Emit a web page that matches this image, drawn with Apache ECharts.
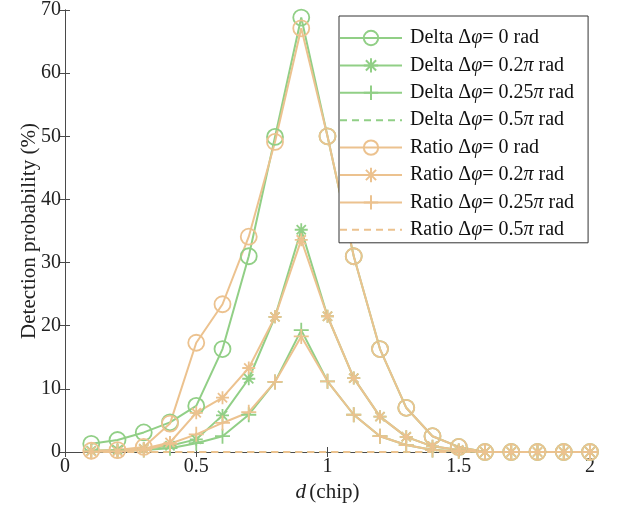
<!DOCTYPE html>
<html>
<head>
<meta charset="utf-8">
<script src="https://cdn.jsdelivr.net/npm/echarts@6/dist/echarts.min.js"></script>
<style>
  html, body { margin: 0; padding: 0; background: #fff; }
  #chart { width: 617px; height: 508px; }
</style>
</head>
<body>
<div id="chart"></div>
<script>
// Chip offset d (chip)
const dValues = [0.1, 0.2, 0.3, 0.4, 0.5, 0.6, 0.7, 0.8, 0.9, 1.0,
                 1.1, 1.2, 1.3, 1.4, 1.5, 1.6, 1.7, 1.8, 1.9, 2.0];

// Detection probability (%) for each discriminator and phase offset
const deltaPhi0   = [1.3, 1.9, 3.1, 4.7, 7.3, 16.3, 31.0, 49.9, 68.8, 50.0, 31.0, 16.3, 7.0, 2.5, 0.8, 0, 0, 0, 0, 0];
const deltaPhi02  = [0.2, 0.3, 0.5, 1.0, 2.0, 5.8, 11.6, 21.4, 35.2, 21.5, 11.7, 5.6, 2.4, 0.9, 0.3, 0, 0, 0, 0, 0];
const deltaPhi025 = [0.1, 0.15, 0.3, 0.6, 1.4, 2.5, 5.9, 11.1, 19.3, 11.2, 5.9, 2.5, 1.1, 0.3, 0.1, 0, 0, 0, 0, 0];
const deltaPhi05  = [0, 0, 0, 0, 0, 0, 0, 0, 0, 0, 0, 0, 0, 0, 0, 0, 0, 0, 0, 0];
const ratioPhi0   = [0.2, 0.3, 0.8, 4.5, 17.3, 23.4, 34.1, 49.1, 67.1, 50.0, 31.0, 16.3, 7.0, 2.5, 0.8, 0, 0, 0, 0, 0];
const ratioPhi02  = [0.1, 0.1, 0.5, 1.5, 6.2, 8.6, 13.3, 21.4, 33.6, 21.5, 11.7, 5.6, 2.4, 0.9, 0.3, 0, 0, 0, 0, 0];
const ratioPhi025 = [0.05, 0.1, 0.3, 1.3, 2.8, 4.6, 6.3, 11.1, 18.3, 11.2, 5.9, 2.5, 1.1, 0.3, 0.1, 0, 0, 0, 0, 0];
const ratioPhi05  = [0, 0, 0, 0, 0, 0, 0, 0, 0, 0, 0, 0, 0, 0, 0, 0, 0, 0, 0, 0];

const seriesNames = [
  'Delta Δφ= 0 rad', 'Delta Δφ= 0.2π rad', 'Delta Δφ= 0.25π rad', 'Delta Δφ= 0.5π rad',
  'Ratio Δφ= 0 rad', 'Ratio Δφ= 0.2π rad', 'Ratio Δφ= 0.25π rad', 'Ratio Δφ= 0.5π rad'
];

// Axis ticks
const xTicks = [0, 0.5, 1, 1.5, 2];
const yTicks = [0, 10, 20, 30, 40, 50, 60, 70];

const GREEN = '#91cf86';
const TAN = '#ecc28f';
const AXIS = '#4a4a4a';
const FONT = '"Liberation Serif", "Times New Roman", serif';

// Marker outlines (stroked, unfilled)
const MARK_CIRCLE = 'circle';
const MARK_STAR = 'path://M0,-10L0,10M-10,0L10,0M-7.07,-7.07L7.07,7.07M-7.07,7.07L7.07,-7.07';
const MARK_PLUS = 'path://M0,-10L0,10M-10,0L10,0';

function pairs(values) {
  return dValues.map((d, i) => [d, values[i]]);
}

function makeSeries(name, values, color, marker, size, dashed) {
  return {
    name: name,
    type: 'line',
    data: pairs(values),
    symbol: dashed ? 'none' : marker,
    symbolSize: size,
    showSymbol: !dashed,
    clip: false,
    animation: false,
    lineStyle: { color: color, width: 2, type: dashed ? [7, 5] : 'solid' },
    itemStyle: {
      color: 'rgba(255,255,255,0)',
      borderColor: dashed ? 'rgba(255,255,255,0)' : color,
      borderWidth: dashed ? 0 : 1.8
    },
    emphasis: { disabled: true }
  };
}

const series = [
  makeSeries(seriesNames[0], deltaPhi0, GREEN, MARK_CIRCLE, 16, false),
  makeSeries(seriesNames[1], deltaPhi02, GREEN, MARK_STAR, 13, false),
  makeSeries(seriesNames[2], deltaPhi025, GREEN, MARK_PLUS, 15, false),
  makeSeries(seriesNames[3], deltaPhi05, GREEN, 'none', 0, true),
  makeSeries(seriesNames[4], ratioPhi0, TAN, MARK_CIRCLE, 16, false),
  makeSeries(seriesNames[5], ratioPhi02, TAN, MARK_STAR, 13, false),
  makeSeries(seriesNames[6], ratioPhi025, TAN, MARK_PLUS, 15, false),
  makeSeries(seriesNames[7], ratioPhi05, TAN, 'none', 0, true)
];

// Italicise the Greek symbols in legend entries
function legendText(name) {
  return name.split(/([φπ])/).filter(s => s.length)
    .map(s => (s === 'φ' || s === 'π') ? '{i|' + s + '}' : '{n|' + s + '}')
    .join('');
}

const chart = echarts.init(document.getElementById('chart'), null, { renderer: 'canvas' });

const tickLabel = { fontFamily: FONT, fontSize: 20, color: '#222' };
const LEG_FS = 20;

chart.setOption({
  backgroundColor: '#fff',
  animation: false,
  grid: { left: 65, right: 27, top: 10, bottom: 56, containLabel: false },
  xAxis: [
    {
      type: 'value', min: xTicks[0], max: xTicks[xTicks.length - 1], interval: 0.5,
      position: 'bottom',
      axisLine: { show: true, lineStyle: { color: AXIS, width: 1 } },
      axisTick: { show: true, inside: true, length: 5, lineStyle: { color: AXIS } },
      splitLine: { show: false },
      axisLabel: Object.assign({ margin: 5, formatter: v => String(v) }, tickLabel),
      name: '{i|d} {n|(chip)}',
      nameLocation: 'middle',
      nameGap: 30,
      nameMoveOverlap: false,
      nameTextStyle: {
        rich: {
          i: { fontFamily: FONT, fontSize: 21, fontStyle: 'italic', color: '#222' },
          n: { fontFamily: FONT, fontSize: 21, color: '#222' }
        }
      }
    },
    {
      type: 'value', min: 0, max: 2, interval: 0.5, position: 'top',
      axisLine: { show: true, lineStyle: { color: AXIS, width: 1 } },
      axisTick: { show: true, inside: true, length: 5, lineStyle: { color: AXIS } },
      axisLabel: { show: false },
      splitLine: { show: false }
    }
  ],
  yAxis: [
    {
      type: 'value', min: yTicks[0], max: yTicks[yTicks.length - 1], interval: 10,
      position: 'left',
      axisLine: { show: true, lineStyle: { color: AXIS, width: 1 } },
      axisTick: { show: true, inside: true, length: 5, lineStyle: { color: AXIS } },
      splitLine: { show: false },
      axisLabel: Object.assign({ margin: 4 }, tickLabel),
      name: 'Detection probability (%)',
      nameLocation: 'middle',
      nameGap: 25,
      nameMoveOverlap: false,
      nameTextStyle: { fontFamily: FONT, fontSize: 21, color: '#222' }
    },
    {
      type: 'value', min: 0, max: 70, interval: 10, position: 'right',
      axisLine: { show: true, lineStyle: { color: AXIS, width: 1 } },
      axisTick: { show: true, inside: true, length: 5, lineStyle: { color: AXIS } },
      axisLabel: { show: false },
      splitLine: { show: false }
    }
  ],
  legend: {
    data: seriesNames,
    orient: 'vertical',
    left: 339,
    top: 16,
    itemWidth: 62,
    itemHeight: 18,
    itemGap: 7.4,
    padding: [12, 14, 3, 0],
    backgroundColor: '#fff',
    borderColor: '#333',
    borderWidth: 1,
    borderRadius: 0,
    selectedMode: false,
    formatter: legendText,
    textStyle: {
      fontFamily: FONT, fontSize: LEG_FS, color: '#111', padding: [0, 0, 0, 3],
      rich: {
        n: { fontFamily: FONT, fontSize: LEG_FS, color: '#111' },
        i: { fontFamily: FONT, fontSize: LEG_FS, fontStyle: 'italic', color: '#111' }
      }
    }
  },
  series: series
});
</script>
</body>
</html>
